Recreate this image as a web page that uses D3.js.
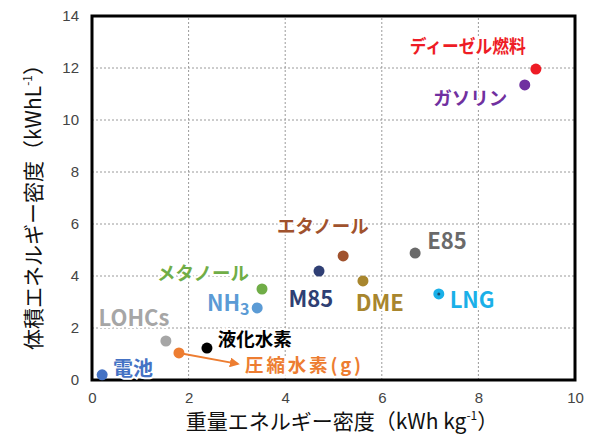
<!DOCTYPE html>
<html lang="ja">
<head>
<meta charset="UTF-8">
<script src="https://d3js.org/d3.v7.min.js"></script>
<title>energy density</title>
<style>
  body { margin: 0; background: #fff; }
  svg text { font-family: "Noto Sans CJK JP", "Noto Sans", sans-serif; }
  .tick text { font-family: "Liberation Sans", Arial, sans-serif; }
</style>
</head>
<body>
<svg id="chart" width="608" height="439"></svg>
<script>
// fuels: gravimetric (kWh/kg) and volumetric (kWh/L) energy density
const names   = ["電池", "LOHCs", "圧縮水素", "液化水素", "NH3", "メタノール", "M85", "エタノール", "DME", "E85", "LNG", "ガソリン", "ディーゼル燃料"];
const gravim  = [0.21, 1.53, 1.8, 2.38, 3.42, 3.52, 4.7, 5.2, 5.61, 6.69, 7.18, 8.96, 9.19];
const volum   = [0.2, 1.5, 1.04, 1.23, 2.77, 3.5, 4.19, 4.77, 3.81, 4.88, 3.31, 11.35, 11.96];
const colors  = ["#4472c4", "#a6a6a6", "#ed7d31", "#000000", "#5b9bd5", "#70ad47", "#2f3f74", "#a0522d", "#a8862e", "#6a6a6a", "#1ab0e8", "#7030a0", "#ee1c25"];
const labels  = ["電池", "LOHCs", "圧縮水素(g)", "液化水素", "NH3", "メタノール", "M85", "エタノール", "DME", "E85", "LNG", "ガソリン", "ディーゼル燃料"];
// label centre positions in data units (x, y)
const labelAt = [[0.85, 0.5], [0.87, 2.46], [4.37, 0.62], [3.37, 1.6], [2.82, 3.04], [2.3, 4.15], [4.53, 3.19], [4.78, 5.96], [5.96, 3.04], [7.35, 5.42], [7.87, 3.15], [7.83, 10.88], [7.78, 12.88]];
const xTicks = [0, 2, 4, 6, 8, 10];
const yTicks = [0, 2, 4, 6, 8, 10, 12, 14];

const svg = d3.select("#chart");
const x = d3.scaleLinear().domain([0, 10]).range([92, 575]);
const y = d3.scaleLinear().domain([0, 14]).range([380, 16]);

// grid
const grid = svg.append("g").attr("stroke", "#9a9a9a").attr("stroke-width", 1).attr("stroke-dasharray", "2,2");
grid.selectAll(".gx").data(xTicks.slice(1, -1)).join("line")
  .attr("x1", d => x(d)).attr("x2", d => x(d)).attr("y1", y(0)).attr("y2", y(14));
grid.selectAll(".gy").data(yTicks.slice(1, -1)).join("line")
  .attr("y1", d => y(d)).attr("y2", d => y(d)).attr("x1", x(0)).attr("x2", x(10));

// axes (ticks only, frame drawn separately)
const xAxis = svg.append("g").attr("transform", `translate(0,${y(0)})`)
  .call(d3.axisBottom(x).tickValues(xTicks).tickSize(0).tickPadding(12));
const yAxis = svg.append("g").attr("transform", `translate(${x(0)},0)`)
  .call(d3.axisLeft(y).tickValues(yTicks).tickSize(0).tickPadding(13));
[xAxis, yAxis].forEach(a => {
  a.select(".domain").remove();
  a.selectAll("text").attr("font-size", 15).attr("fill", "#444");
});

// frame
svg.append("rect")
  .attr("x", x(0)).attr("y", y(14))
  .attr("width", x(10) - x(0)).attr("height", y(0) - y(14))
  .attr("fill", "none").attr("stroke", "#000").attr("stroke-width", 3);

// arrow for compressed hydrogen
svg.append("defs").append("marker")
  .attr("id", "arr").attr("viewBox", "0 0 10 10").attr("refX", 8).attr("refY", 5)
  .attr("markerWidth", 5).attr("markerHeight", 5).attr("orient", "auto")
  .append("path").attr("d", "M0,0 L10,5 L0,10 z").attr("fill", colors[2]);
svg.append("line")
  .attr("x1", x(gravim[2])).attr("y1", y(volum[2]))
  .attr("x2", x(3.02)).attr("y2", y(0.62))
  .attr("stroke", colors[2]).attr("stroke-width", 2).attr("marker-end", "url(#arr)");

// points
svg.append("g").selectAll("circle").data(names).join("circle")
  .attr("cx", (d, i) => x(gravim[i])).attr("cy", (d, i) => y(volum[i]))
  .attr("r", 5.5).attr("fill", (d, i) => colors[i]);
// small dark centre on LNG
svg.append("circle").attr("cx", x(gravim[10])).attr("cy", y(volum[10])).attr("r", 1.5).attr("fill", "#1d4f6e");

// labels
const latin = d => /^[A-Z]/.test(d);
const lab = svg.append("g").selectAll("text").data(labels).join("text")
  .attr("x", (d, i) => x(labelAt[i][0])).attr("y", (d, i) => y(labelAt[i][1]))
  .attr("text-anchor", "middle").attr("dominant-baseline", "central")
  .attr("font-family", d => latin(d) ? "'Open Sans', sans-serif" : null)
  .attr("font-size", d => latin(d) ? 22 : (d === "電池" ? 20 : 18.5))
  .attr("font-weight", "bold")
  .attr("fill", (d, i) => colors[i])
  .attr("stroke", "#fff").attr("stroke-width", 4).attr("paint-order", "stroke");
lab.each(function (d) {
  const t = d3.select(this);
  if (d === "NH3") {
    t.append("tspan").text("NH");
    t.append("tspan").attr("font-size", 16).attr("dy", 7).text("3");
  } else t.text(d);
  if (d === "ディーゼル燃料") t.attr("textLength", 116).attr("lengthAdjust", "spacingAndGlyphs");
  if (d === "圧縮水素(g)") t.attr("textLength", 116);
});

// axis titles
const xt = svg.append("text").attr("x", 342).attr("y", 429).attr("text-anchor", "middle")
  .attr("font-size", 21).attr("fill", "#111");
xt.append("tspan").text("重量エネルギー密度（kWh kg");
xt.append("tspan").attr("font-size", 12).attr("dy", -9).text("-1");
xt.append("tspan").attr("dy", 9).text("）");

const yt = svg.append("text").attr("transform", "translate(41,202) rotate(-90)")
  .attr("text-anchor", "middle").attr("font-size", 21).attr("fill", "#111");
yt.append("tspan").text("体積エネルギー密度（kWhL");
yt.append("tspan").attr("font-size", 12).attr("dy", -9).text("-1");
yt.append("tspan").attr("dy", 9).text("）");
</script>
</body>
</html>
